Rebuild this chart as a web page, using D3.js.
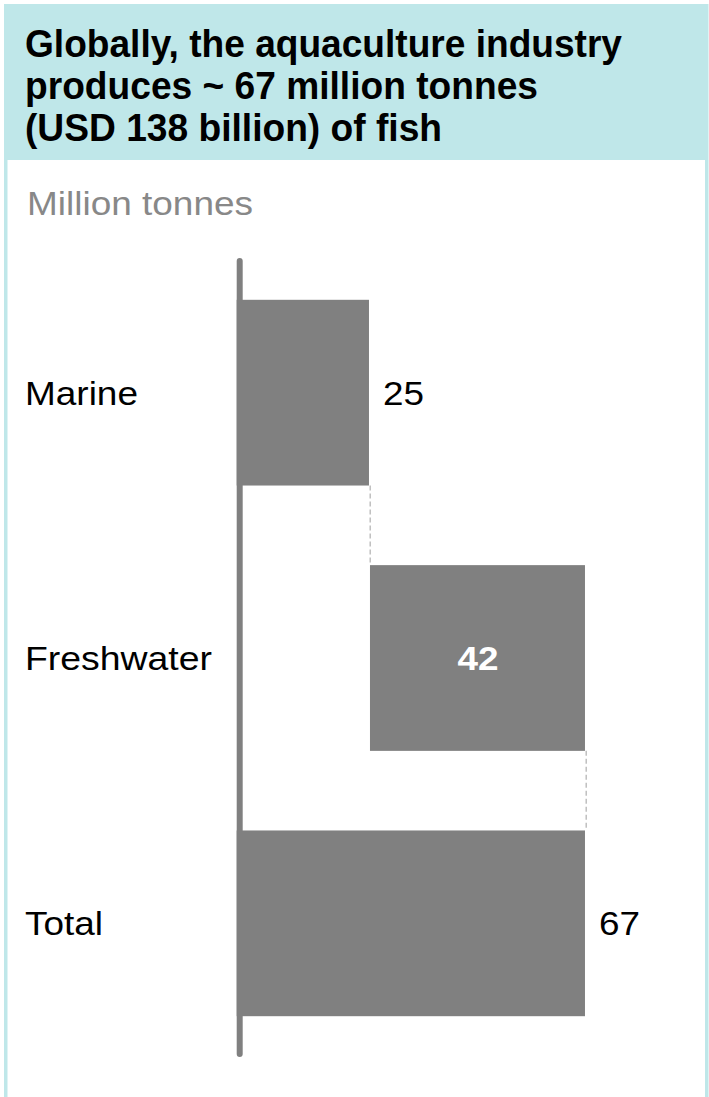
<!DOCTYPE html>
<html>
<head>
<meta charset="utf-8">
<script src="https://cdn.jsdelivr.net/npm/d3@7"></script>
<style>
  html, body { margin: 0; padding: 0; background: #ffffff; }
  svg { display: block; }
</style>
</head>
<body>
<script>
// Aquaculture production waterfall (million tonnes)
const categories = ["Marine", "Freshwater", "Total"];
const starts = [0, 25, 0];
const values = [25, 42, 67];
const valueLabels = ["25", "42", "67"];
const titleLines = [
  "Globally, the aquaculture industry",
  "produces ~ 67 million tonnes",
  "(USD 138 billion) of fish"
];
const unitLabel = "Million tonnes";

const W = 709, H = 1097;
const teal = "#bfe7e9";
const barColor = "#808080";
const font = "'Liberation Sans', Arial, sans-serif";

const svg = d3.select("body").append("svg")
  .attr("width", W).attr("height", H);

// Panel frame and header band
svg.append("rect").attr("x", 4).attr("y", 4).attr("width", 702).attr("height", 156).attr("fill", teal);
svg.append("rect").attr("x", 4).attr("y", 4).attr("width", 3.5).attr("height", H).attr("fill", teal);
svg.append("rect").attr("x", 705).attr("y", 4).attr("width", 3.5).attr("height", H).attr("fill", teal);

// Title lines, condensed bold
const titleWidths = [597, 513, 417];
svg.append("g").selectAll("text").data(titleLines).join("text")
  .attr("x", 25)
  .attr("y", (d, i) => 57 + i * 42)
  .attr("font-family", font)
  .attr("font-weight", "bold")
  .attr("font-size", 39)
  .attr("fill", "#000")
  .attr("textLength", (d, i) => titleWidths[i])
  .attr("lengthAdjust", "spacingAndGlyphs")
  .text(d => d);

svg.append("text")
  .attr("x", 27).attr("y", 215)
  .attr("font-family", font)
  .attr("font-size", 34)
  .attr("fill", "#888888")
  .attr("textLength", 226)
  .attr("lengthAdjust", "spacingAndGlyphs")
  .text(unitLabel);

// Scales
const x = d3.scaleLinear().domain([0, 70]).range([240.4, 240.4 + 70 * 5.143]);
const y = d3.scaleBand().domain(categories).range([260, 1056]).paddingInner(0.3).paddingOuter(0.15);

// Vertical axis line
svg.append("line")
  .attr("x1", x(0) - 0.7).attr("x2", x(0) - 0.7)
  .attr("y1", 261).attr("y2", 1054)
  .attr("stroke", barColor).attr("stroke-width", 6)
  .attr("stroke-linecap", "round");

const rows = categories.map((c, i) => ({ c, s: starts[i], v: values[i], lab: valueLabels[i] }));

// Bars
svg.append("g").selectAll("rect").data(rows).join("rect")
  .attr("x", d => d.s === 0 ? x(0) - 3.7 : x(d.s) + 1)
  .attr("y", d => y(d.c))
  .attr("width", d => d.s === 0 ? x(d.s + d.v) - x(0) + 3.7 : x(d.s + d.v) - x(d.s) - 1)
  .attr("height", y.bandwidth())
  .attr("fill", barColor);

// Dashed connectors between consecutive bars
const links = rows.slice(0, -1).map((d, i) => ({
  v: d.s + d.v,
  y1: y(d.c) + y.bandwidth(),
  y2: y(rows[i + 1].c)
}));
svg.append("g").selectAll("line").data(links).join("line")
  .attr("x1", d => x(d.v) + 1.2).attr("x2", d => x(d.v) + 1.2)
  .attr("y1", d => d.y1).attr("y2", d => d.y2)
  .attr("stroke", "#b0b0b0").attr("stroke-width", 1.2)
  .attr("stroke-dasharray", "5,3");

// Category labels
const catWidths = { Marine: 113, Freshwater: 187, Total: 78 };
svg.append("g").selectAll("text").data(rows).join("text")
  .attr("x", 25)
  .attr("y", d => y(d.c) + y.bandwidth() / 2 + 12)
  .attr("font-family", font)
  .attr("font-size", 34)
  .attr("fill", "#000")
  .attr("textLength", d => catWidths[d.c])
  .attr("lengthAdjust", "spacingAndGlyphs")
  .text(d => d.c);

// Value labels: inside for floating bar, outside for the rest
svg.append("g").selectAll("text").data(rows).join("text")
  .attr("x", d => d.s > 0 ? (x(d.s) + x(d.s + d.v)) / 2 + 1 : x(d.s + d.v) + 14)
  .attr("y", d => y(d.c) + y.bandwidth() / 2 + 12)
  .attr("text-anchor", d => d.s > 0 ? "middle" : "start")
  .attr("font-family", font)
  .attr("font-size", 34)
  .attr("font-weight", d => d.s > 0 ? "bold" : "normal")
  .attr("fill", d => d.s > 0 ? "#ffffff" : "#000")
  .attr("textLength", 41)
  .attr("lengthAdjust", "spacingAndGlyphs")
  .text(d => d.lab);
</script>
</body>
</html>
